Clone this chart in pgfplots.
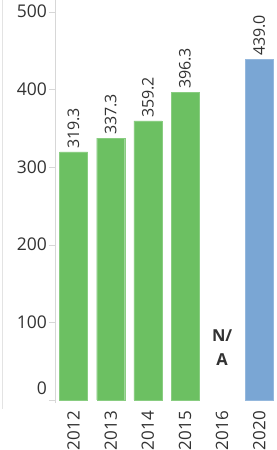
\documentclass[border=0pt]{standalone}
\usepackage{pgfplots}
\pgfplotsset{compat=1.18}
\usepackage{fontspec}
\setmainfont{Open Sans}
\definecolor{barg}{RGB}{108,192,98}
\definecolor{barb}{RGB}{122,166,212}
\definecolor{txt}{RGB}{50,50,50}
\definecolor{axl}{RGB}{215,215,215}
\begin{document}
\begin{tikzpicture}
\begin{axis}[
  scale only axis, width=221pt, height=403pt,
  xmin=-0.5, xmax=5.45, ymin=-3.9, ymax=515,
  clip=false,
  separate axis lines,
  axis y line*=left,
  axis x line*=bottom,
  x axis line style={draw=none},
  y axis line style={draw=axl, -},
  /pgf/number format/assume math mode=true,
  ybar, bar width=28pt,
  xtick={0,1,2,3,4,5},
  xticklabels={2012,2013,2014,2015,2016,2020},
  major x tick style={draw=none},
  x tick label style={rotate=90, anchor=east, font=\fontsize{17}{18}\selectfont, text=txt, inner sep=2pt},
  extra x ticks={0.5,1.5,2.5,3.5,4.5},
  extra x tick labels={},
  extra x tick style={major tick length=7pt, tick align=outside, tick style={draw=axl}},
  ytick={100,200,300,400,500},
  extra y ticks={0},
  extra y tick style={yticklabel style={yshift=12pt}},
  y tick label style={font=\fontsize{17.5}{18}\selectfont, text=txt, inner sep=2pt},
  major y tick style={draw=axl},
  major tick length=6pt, tick align=outside,
  nodes near coords,
  nodes near coords style={/pgf/number format/fixed, /pgf/number format/fixed zerofill, /pgf/number format/precision=1, /pgf/number format/assume math mode=true, rotate=90, anchor=west, font=\fontsize{16}{16}\selectfont, text=txt, inner sep=3pt},
]
\addplot[bar shift=0pt, fill=barg, draw=barg!80!white] coordinates {(0,319.3) (1,337.3) (2,359.2) (3,396.3)};
\addplot[bar shift=0pt, fill=barb, draw=barb!80!white] coordinates {(5,439.0)};
\node[align=center, font=\fontsize{16.5}{24}\selectfont\bfseries, text=txt] at (axis cs:4,68) {N/\\A};
\coordinate (A) at (rel axis cs:0,0);
\coordinate (B) at (rel axis cs:1,1);
\end{axis}
\draw[axl!70] ([shift={(-53pt,-6pt)}]A) -- ([xshift=-53pt]A |- B);
\pgfresetboundingbox
\path ([shift={(-55pt,-47pt)}]A) rectangle (B);
\end{tikzpicture}
\end{document}
